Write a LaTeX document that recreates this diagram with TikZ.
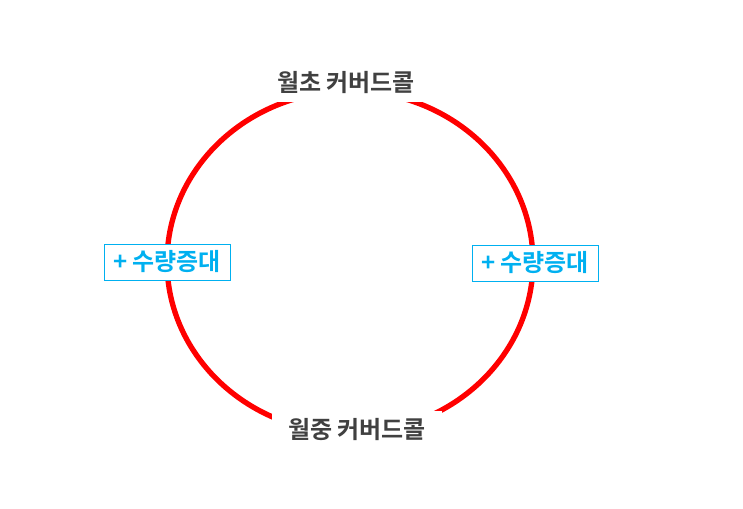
\documentclass[tikz,border=0pt]{standalone}
\usepackage{fontspec}
\setmainfont{Noto Sans CJK KR}[BoldFont={* Bold}]
\definecolor{ringred}{RGB}{255,0,0}
\definecolor{textgray}{RGB}{64,64,64}
\definecolor{plusblue}{RGB}{0,176,240}
\tikzset{
  monthlabel/.style={fill=white, text=textgray, font=\bfseries\fontsize{18}{21}\selectfont, inner xsep=12pt, inner ysep=6pt},
  gainbox/.style={draw=plusblue, line width=0.5pt, fill=white, text=plusblue, font=\bfseries\fontsize{18}{21}\selectfont, minimum width=94.5pt, minimum height=27pt, inner sep=2pt}
}
\begin{document}
\begin{tikzpicture}[x=0.75pt, y=-0.75pt]
  \useasboundingbox (0,0) rectangle (743,509);
  % ring
  \draw[ringred, line width=4pt] (350,262) ellipse (183 and 171);
  \node[monthlabel] (start) at (346,83) {월초 커버드콜};
  \node[monthlabel] (mid) at (357,430) {월중 커버드콜};
  \node[gainbox] (left) at (167,262) {+ 수량증대};
  \node[gainbox] (right) at (535,263) {+ 수량증대};
\end{tikzpicture}
\end{document}
